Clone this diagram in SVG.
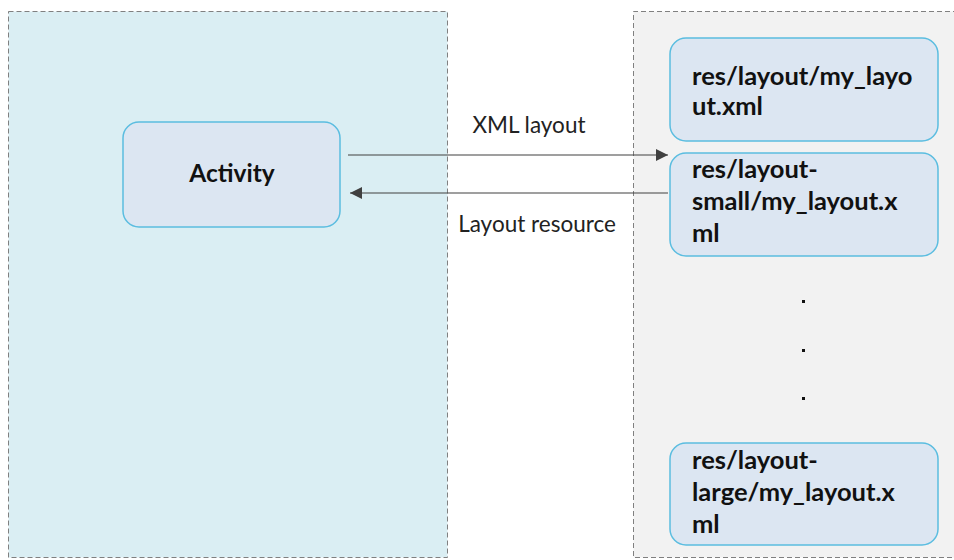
<svg xmlns="http://www.w3.org/2000/svg" width="954" height="560" viewBox="0 0 954 560">
  <style>
    .panel { stroke: #808080; stroke-width: 1; stroke-dasharray: 5 3; }
    .node rect { fill: #dce6f2; stroke: #5bbde0; stroke-width: 1.5; }
    .node text { font-family: Lato, "Liberation Sans", sans-serif; font-weight: bold; font-size: 25.5px; fill: #111; }
    .label { font-family: Lato, "Liberation Sans", sans-serif; font-size: 22.5px; fill: #222; }
    .conn { stroke: #404040; stroke-width: 1.2; fill: none; }
  </style>
  <defs>
    <marker id="arrow" viewBox="0 0 10 10" refX="10" refY="5" markerWidth="12" markerHeight="12" markerUnits="userSpaceOnUse" orient="auto">
      <path d="M0,0 L10,5 L0,10 z" fill="#404040"/>
    </marker>
  </defs>
  <rect width="954" height="560" fill="#ffffff"/>

  <!-- containers -->
  <rect id="app-panel" class="panel" x="8.5" y="11.5" width="439" height="546" fill="#daeef3"/>
  <path id="res-panel" class="panel" d="M958,11.5 H633.5 V557.5 H958" fill="#f2f2f2"/>

  <!-- nodes -->
  <g id="activity" class="node">
    <rect x="123" y="122" width="217" height="105" rx="16"/>
    <text x="232" y="182" text-anchor="middle" style="font-size:24.5px">Activity</text>
  </g>
  <g id="layout-default" class="node">
    <rect x="670" y="38" width="268" height="103" rx="16"/>
    <text x="692" y="85">res/layout/my_layo</text>
    <text x="692" y="115">ut.xml</text>
  </g>
  <g id="layout-small" class="node">
    <rect x="670" y="153" width="268" height="103" rx="16"/>
    <text x="692" y="178">res/layout-</text>
    <text x="692" y="210">small/my_layout.x</text>
    <text x="692" y="242">ml</text>
  </g>
  <g id="layout-large" class="node">
    <rect x="670" y="443" width="268" height="102" rx="16"/>
    <text x="692" y="469">res/layout-</text>
    <text x="692" y="501">large/my_layout.x</text>
    <text x="692" y="533">ml</text>
  </g>

  <!-- ellipsis between resource variants -->
  <g id="ellipsis" fill="#111">
    <rect x="802" y="300" width="3" height="3"/>
    <rect x="802" y="349" width="3" height="3"/>
    <rect x="802" y="397" width="3" height="3"/>
  </g>

  <!-- connectors -->
  <g id="connectors">
    <line class="conn" x1="348" y1="155" x2="668" y2="155" marker-end="url(#arrow)"/>
    <line class="conn" x1="668" y1="193" x2="350" y2="193" marker-end="url(#arrow)"/>
    <text class="label" x="529" y="133" text-anchor="middle">XML layout</text>
    <text class="label" x="537" y="232" text-anchor="middle">Layout resource</text>
  </g>
</svg>
